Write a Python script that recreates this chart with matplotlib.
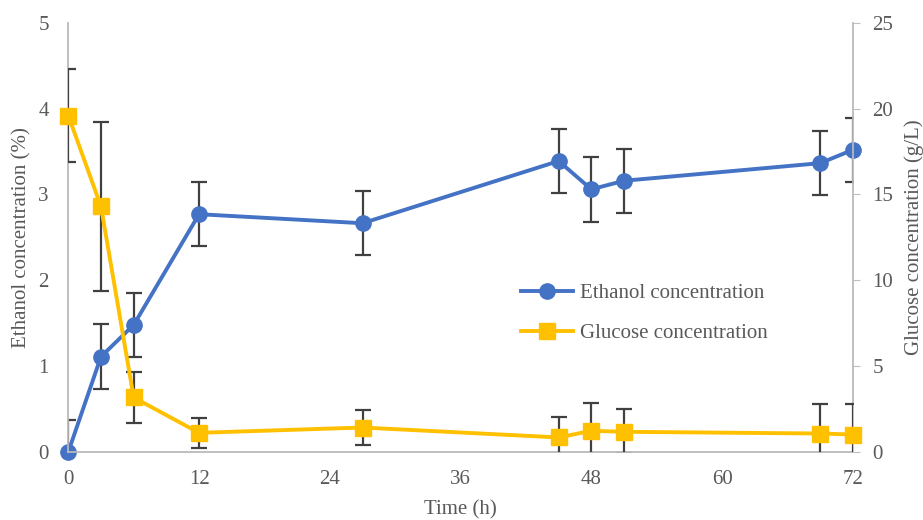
import matplotlib
matplotlib.use("Agg")
import matplotlib.pyplot as plt
from matplotlib.lines import Line2D

# data
time_h = [0, 3, 6, 12, 27, 45, 48, 51, 69, 72]
ethanol = [0.0, 1.11, 1.48, 2.77, 2.665, 3.39, 3.06, 3.16, 3.365, 3.52]
ethanol_err = [0.375] * 10
glucose = [19.6, 14.3, 3.17, 1.11, 1.42, 0.84, 1.23, 1.17, 1.07, 1.01]
glucose_err = [2.72, 4.9, 1.49, 0.875, 1.02, 1.17, 1.6, 1.31, 1.7, 1.76]

x_ticks = [0, 12, 24, 36, 48, 60, 72]

blue = "#4472C4"
gold = "#FFC000"
grey_txt = "#595959"
spine_c = "#BFBFBF"
err_c = "#404040"
fs = 15

plt.rcParams["font.family"] = ["Liberation Serif", "DejaVu Serif"]

fig = plt.figure(figsize=(9.23, 5.2), dpi=100)
ax = fig.add_axes([0.074, 0.131, 0.850, 0.825])
ax2 = ax.twinx()

eb1 = ax.errorbar(time_h, ethanol, yerr=ethanol_err, color=blue, lw=2.8,
                  marker="o", ms=11, ecolor=err_c, elinewidth=1.6, capsize=6,
                  capthick=1.6, zorder=3)
eb2 = ax2.errorbar(time_h, glucose, yerr=glucose_err, color=gold, lw=2.8,
                   marker="s", ms=11, ecolor=err_c, elinewidth=1.6, capsize=6,
                   capthick=1.6, zorder=3)
# markers at the plot edges are not cut off, the bars are
eb1[0].set_clip_on(False)
eb2[0].set_clip_on(False)

ax.set_xlim(0, 72)
ax.set_ylim(0, 5)
ax2.set_ylim(0, 25)
ax.set_xticks(x_ticks)
ax.set_yticks(range(6))
ax2.set_yticks(range(0, 26, 5))

for a in (ax, ax2):
    a.spines["top"].set_visible(False)
    for s in ("left", "right", "bottom"):
        a.spines[s].set_color(spine_c)
        a.spines[s].set_linewidth(1.2)
    a.tick_params(labelsize=fs, colors=grey_txt)

ax.tick_params(axis="y", length=0, pad=14)
ax.tick_params(axis="x", length=0, pad=13)
ax2.tick_params(axis="y", length=5, color=spine_c, pad=9)

ax.set_xlabel("Time (h)", fontsize=fs, color=grey_txt, labelpad=8)
ax.set_ylabel("Ethanol concentration (%)", fontsize=fs, color=grey_txt, labelpad=5)
ax2.set_ylabel("Glucose concentration (g/L)", fontsize=fs, color=grey_txt, labelpad=8)

handles = [
    Line2D([], [], color=blue, lw=2.8, marker="o", ms=11),
    Line2D([], [], color=gold, lw=2.8, marker="s", ms=11),
]
ax2.legend(handles, ["Ethanol concentration", "Glucose concentration"],
           loc="center left", bbox_to_anchor=(0.553, 0.323), frameon=False,
           fontsize=fs, labelcolor=grey_txt, handlelength=2.5,
           labelspacing=0.95, handletextpad=0.35)

fig.savefig("out.png", dpi=100)
